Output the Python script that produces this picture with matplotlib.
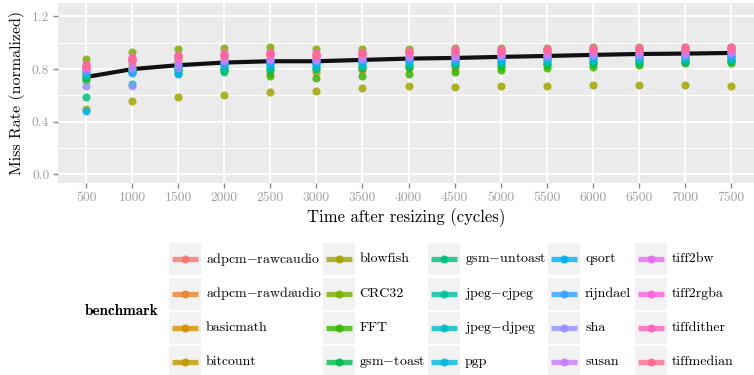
import matplotlib
matplotlib.use("Agg")
import matplotlib.pyplot as plt
from matplotlib.patches import Rectangle
from matplotlib.lines import Line2D

plt.rcParams["font.family"] = ["cmr10", "DejaVu Serif"]
plt.rcParams["mathtext.fontset"] = "cm"
plt.rcParams["axes.unicode_minus"] = False

times = [500, 1000, 1500, 2000, 2500, 3000, 3500, 4000, 4500, 5000, 5500, 6000, 6500, 7000, 7500]

benchmarks = ["adpcm-rawcaudio", "adpcm-rawdaudio", "basicmath", "bitcount", "blowfish",
              "CRC32", "FFT", "gsm-toast", "gsm-untoast", "jpeg-cjpeg",
              "jpeg-djpeg", "pgp", "qsort", "rijndael", "sha",
              "susan", "tiff2bw", "tiff2rgba", "tiffdither", "tiffmedian"]

colors = ["#F8766D", "#EA8331", "#D89000", "#C09B00", "#A3A500",
          "#7CAE00", "#39B600", "#00BB4E", "#00BF7D", "#00C1A3",
          "#00BFC4", "#00BAE0", "#00B0F6", "#35A2FF", "#9590FF",
          "#C77CFF", "#E76BF3", "#FA62DB", "#FF62BC", "#FF6C91"]

miss_rate = {
    "adpcm-rawcaudio": [0.82, 0.88, 0.90, 0.91, 0.92, 0.91, 0.92, 0.93, 0.93, 0.94, 0.94, 0.94, 0.95, 0.95, 0.95],
    "adpcm-rawdaudio": [0.81, 0.87, 0.89, 0.90, 0.91, 0.90, 0.91, 0.92, 0.92, 0.93, 0.93, 0.93, 0.94, 0.94, 0.94],
    "basicmath":       [0.74, 0.80, 0.80, 0.79, 0.77, 0.78, 0.79, 0.805, 0.81, 0.82, 0.83, 0.84, 0.85, 0.86, 0.86],
    "bitcount":        [0.79, 0.84, 0.86, 0.87, 0.88, 0.87, 0.88, 0.89, 0.90, 0.90, 0.91, 0.91, 0.92, 0.92, 0.92],
    "blowfish":        [0.50, 0.555, 0.585, 0.604, 0.626, 0.636, 0.654, 0.67, 0.665, 0.67, 0.675, 0.677, 0.682, 0.677, 0.675],
    "CRC32":           [0.88, 0.93, 0.95, 0.96, 0.965, 0.95, 0.955, 0.955, 0.96, 0.96, 0.96, 0.965, 0.965, 0.965, 0.97],
    "FFT":             [0.72, 0.79, 0.80, 0.80, 0.745, 0.73, 0.745, 0.765, 0.78, 0.79, 0.81, 0.82, 0.835, 0.845, 0.85],
    "gsm-toast":       [0.73, 0.78, 0.79, 0.79, 0.79, 0.80, 0.81, 0.82, 0.83, 0.835, 0.84, 0.845, 0.85, 0.855, 0.86],
    "gsm-untoast":     [0.59, 0.78, 0.77, 0.78, 0.80, 0.81, 0.82, 0.83, 0.84, 0.845, 0.85, 0.855, 0.86, 0.865, 0.87],
    "jpeg-cjpeg":      [0.75, 0.80, 0.79, 0.81, 0.82, 0.82, 0.83, 0.84, 0.85, 0.855, 0.86, 0.865, 0.87, 0.875, 0.88],
    "jpeg-djpeg":      [0.76, 0.69, 0.82, 0.83, 0.84, 0.84, 0.85, 0.86, 0.865, 0.87, 0.875, 0.88, 0.885, 0.89, 0.89],
    "pgp":             [0.77, 0.79, 0.83, 0.84, 0.85, 0.85, 0.86, 0.87, 0.87, 0.88, 0.88, 0.89, 0.89, 0.89, 0.90],
    "qsort":           [0.48, 0.78, 0.76, 0.84, 0.85, 0.85, 0.86, 0.87, 0.88, 0.88, 0.89, 0.89, 0.90, 0.90, 0.90],
    "rijndael":        [0.78, 0.77, 0.82, 0.85, 0.86, 0.86, 0.87, 0.88, 0.88, 0.89, 0.89, 0.90, 0.90, 0.91, 0.91],
    "sha":             [0.67, 0.675, 0.81, 0.86, 0.87, 0.87, 0.88, 0.89, 0.89, 0.90, 0.90, 0.91, 0.91, 0.91, 0.92],
    "susan":           [0.80, 0.81, 0.84, 0.87, 0.88, 0.88, 0.89, 0.90, 0.90, 0.91, 0.91, 0.92, 0.92, 0.92, 0.93],
    "tiff2bw":         [0.81, 0.86, 0.88, 0.90, 0.91, 0.90, 0.91, 0.92, 0.93, 0.93, 0.94, 0.94, 0.95, 0.95, 0.95],
    "tiff2rgba":       [0.82, 0.87, 0.89, 0.91, 0.92, 0.91, 0.92, 0.93, 0.94, 0.94, 0.95, 0.95, 0.955, 0.96, 0.96],
    "tiffdither":      [0.84, 0.89, 0.905, 0.92, 0.93, 0.92, 0.93, 0.94, 0.95, 0.95, 0.955, 0.96, 0.96, 0.965, 0.965],
    "tiffmedian":      [0.83, 0.88, 0.90, 0.91, 0.92, 0.91, 0.92, 0.93, 0.94, 0.94, 0.945, 0.95, 0.955, 0.955, 0.96],
}

# average over all benchmarks
mean_rate = [0.74, 0.80, 0.83, 0.85, 0.86, 0.86, 0.87, 0.88, 0.885, 0.893, 0.90, 0.908, 0.915, 0.918, 0.923]

yticks = [0.0, 0.4, 0.8, 1.2]


def label(name):
    return name.replace("-", "$-$")


W, H = 754, 375
fig = plt.figure(figsize=(W / 100, H / 100), dpi=100)
fig.patch.set_facecolor("white")

ax = fig.add_axes([58.4 / W, 1 - 183.3 / H, (W - 58.4) / W, (183.3 - 3.3) / H])
ax.set_facecolor("#EBEBEB")
for s in ax.spines.values():
    s.set_visible(False)

ax.set_xlim(200, 7750)
ax.set_ylim(-0.067, 1.30)
ax.set_xticks(times)
ax.set_xticklabels([str(t) for t in times])
ax.set_yticks(yticks)
ax.set_yticklabels(["%.1f" % v for v in yticks])
ax.set_yticks([0.2, 0.6, 1.0], minor=True)
ax.grid(True, which="major", color="white", linewidth=1.4)
ax.grid(True, which="minor", axis="y", color="white", linewidth=0.7)
ax.set_axisbelow(True)
ax.tick_params(which="major", length=3.5, width=1.0, color="#8A8A8A",
               labelcolor="#A0A0A0", labelsize=9.8, pad=3)
ax.tick_params(which="minor", length=0)

ax.plot(times, mean_rate, color="#111111", linewidth=3.0, zorder=2, solid_capstyle="butt")
for name, c in zip(benchmarks, colors):
    ax.scatter(times, miss_rate[name], s=34, color=c, alpha=0.85, linewidths=0, zorder=3)

ax.set_xlabel("Time after resizing (cycles)", fontsize=12, labelpad=3)
ax.set_ylabel("Miss Rate (normalized)", fontsize=11.5, labelpad=5)

# legend drawn in pixel coordinates
lg = fig.add_axes([0, 0, 1, 1])
lg.set_xlim(0, W)
lg.set_ylim(H, 0)
lg.axis("off")

key_x = [169, 323.3, 428.3, 548.3, 635]
text_x = [206, 359.3, 465, 585, 671.7]
row_y = [259.3, 293.6, 327.9, 362.2]
for i, (name, c) in enumerate(zip(benchmarks, colors)):
    col, row = divmod(i, 4)
    kx, cy = key_x[col], row_y[row]
    lg.add_patch(Rectangle((kx, cy - 16), 31.5, 32, facecolor="#F2F2F2", edgecolor="none"))
    lg.add_line(Line2D([kx + 2.5, kx + 29], [cy, cy], color=c, alpha=0.8, linewidth=3.8,
                       solid_capstyle="butt"))
    lg.plot([kx + 15.75], [cy], "o", color=c, alpha=0.9, markersize=5.8, markeredgewidth=0)
    lg.text(text_x[col], cy, label(name), fontsize=10, va="center", ha="left")

lg.text(85, 311, "benchmark", fontsize=11, va="center", ha="left", family="cmb10")

fig.savefig("out.png", dpi=100)
